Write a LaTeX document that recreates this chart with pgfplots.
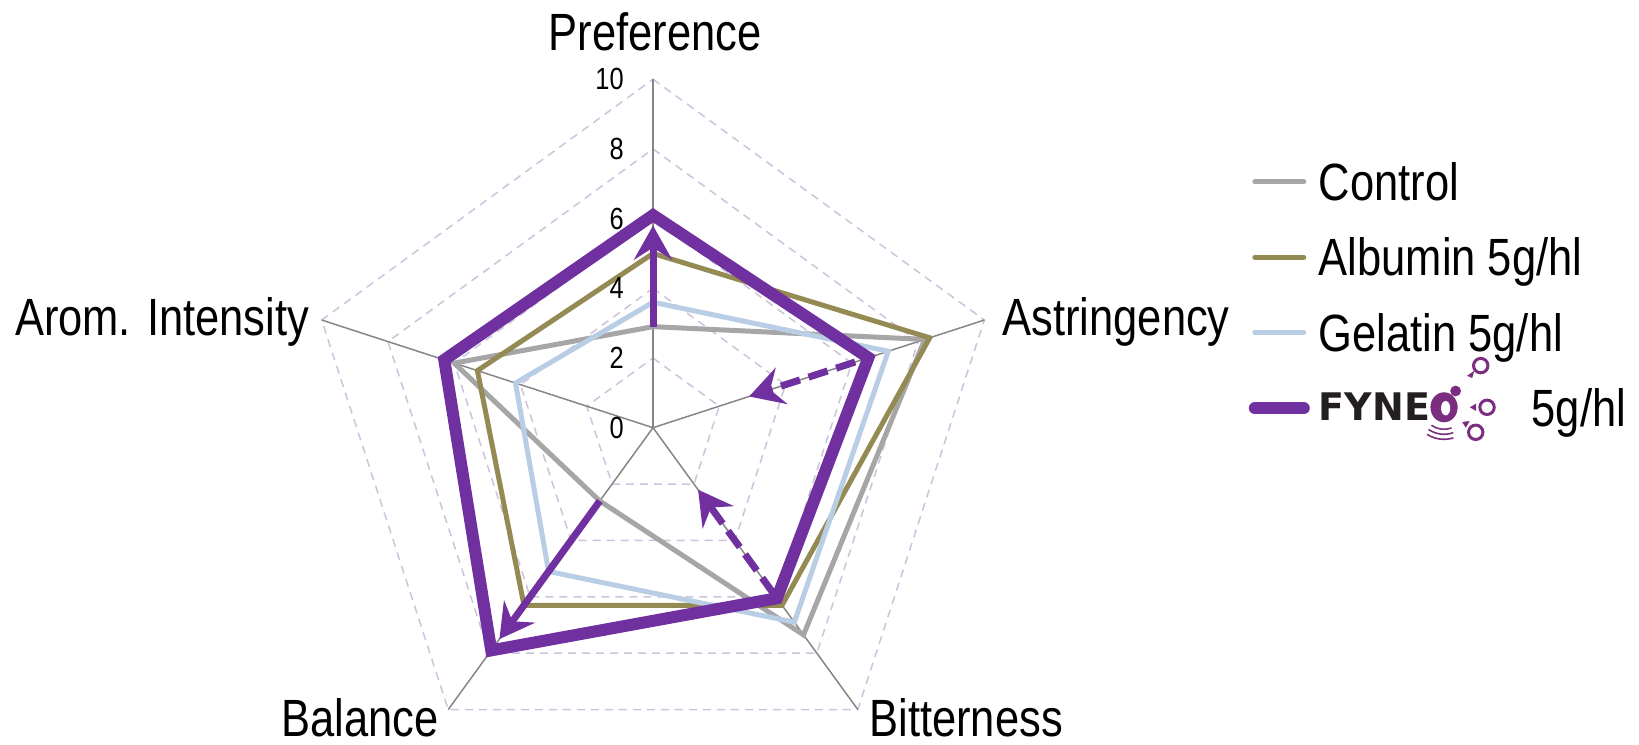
\documentclass[border=0pt]{standalone}
\usepackage{fontspec}
\setmainfont{Liberation Sans}[FakeStretch=0.83]
\newfontfamily\logofont{DejaVu Sans}
\usepackage{pgfplots}
\pgfplotsset{compat=1.18}
\usepackage{pgfplotstable}
\usetikzlibrary{arrows.meta}

\definecolor{ctrl}{HTML}{A6A6A6}
\definecolor{albu}{HTML}{948A54}
\definecolor{gela}{HTML}{B9CDE5}
\definecolor{fyne}{HTML}{7030A0}
\definecolor{logo}{HTML}{7B2D7F}
\definecolor{logotext}{HTML}{231F20}
\definecolor{spoke}{HTML}{868686}
\definecolor{gridc}{HTML}{CCC3DC}

% sensory scores on a 0-10 scale
% spoke angles: Preference 90, Astringency 18, Bitterness -54, Balance -126, Arom. Intensity 162
\pgfplotstableread{
angle control albumin gelatin fyneo
90    2.9     5.0     3.6     6.1
18    8.2     8.35    7.1     6.5
-54   7.35    6.3     6.9     6.05
-126  2.6     6.3     5.1     7.9
162   6.0     5.3     4.15    6.3
}\sensory

\newcommand{\biglabel}{\fontsize{26.2}{30}\selectfont}
\newcommand{\ticklabel}{\fontsize{15.3}{16}\selectfont}
\newcommand{\logotype}{\fontsize{19}{20}\selectfont\logofont\bfseries}

% brand mark used in the legend
\newcommand{\fyneologo}{%
  \tikz[baseline=0pt, x=1pt, y=1pt]{%
    \node[anchor=base east, inner sep=0pt, outer sep=0pt, text height=, text depth=,
          font=\logotype, text=logotext] at (-0.5,3) {FYNE};
    \fill[logo] (6.5,9.65) ellipse [x radius=6.8, y radius=7.5];
    \fill[white] (7.3,9.2) ellipse [x radius=2.3, y radius=3.6];
    \fill[logo] (12.3,17.8) circle [radius=2.7];
    \draw[logo, line width=1.5pt] (24.85,30.5) circle [radius=3.6];
    \draw[logo, line width=1.5pt] (28,9.65) circle [radius=3.6];
    \draw[logo, line width=1.5pt] (22.35,-2.85) circle [radius=3.6];
    \fill[logo] (18.0,25.4) -- (21.6,27.9) -- (20.6,24.3) -- cycle;
    \fill[logo] (19.4,9.65) -- (22.6,11.5) -- (22.6,7.8) -- cycle;
    \fill[logo] (15.6,2.3) -- (19.3,2.8) -- (17.4,-0.6) -- cycle;
    \draw[logo, line width=0.8pt] (6.5,9.65) ++(235:11) arc [start angle=235, end angle=290, radius=11];
    \draw[logo, line width=0.8pt] (6.5,9.65) ++(235:13.5) arc [start angle=235, end angle=290, radius=13.5];
    \draw[logo, line width=0.8pt] (6.5,9.65) ++(238:16) arc [start angle=238, end angle=287, radius=16];
  }%
}

\begin{document}
\begin{tikzpicture}
\begin{axis}[
  x=17.42pt, y=17.42pt,
  xmin=-18.743, xmax=28.30, ymin=-9.107, ymax=12.276,
  hide axis, clip=false,
  legend cell align=left,
  legend image code/.code={\draw[#1, line cap=round] (0pt,0pt) -- (24.5pt,0pt);},
  legend style={draw=none, fill=none, inner sep=0pt, outer sep=0pt,
    at={(axis cs:17.10,7.807)}, anchor=north west,
    row sep=11.75pt, column sep=4.5pt,
    font=\biglabel,
    nodes={inner sep=0pt, text height=22.2pt, text depth=3.8pt}},
  gridpent/.style={forget plot, gridc, line width=0.75pt, dash pattern=on 4pt off 3pt, data cs=polar, mark=none},
  spokeline/.style={forget plot, spoke, line width=0.75pt, data cs=polar, mark=none},
  series/.style={data cs=polar, mark=none, line join=miter},
  shift arrow/.style={forget plot, fyne, line width=3.5pt, data cs=polar, mark=none,
    -{Stealth[length=17pt, width=19pt, inset=6pt]}},
]
\coordinate (bbsw) at (rel axis cs:0,0);
\coordinate (bbne) at (rel axis cs:1,1);

% dashed level pentagons
\addplot[gridpent] coordinates {(90,2) (18,2) (-54,2) (-126,2) (162,2)} -- cycle;
\addplot[gridpent] coordinates {(90,4) (18,4) (-54,4) (-126,4) (162,4)} -- cycle;
\addplot[gridpent] coordinates {(90,6) (18,6) (-54,6) (-126,6) (162,6)} -- cycle;
\addplot[gridpent] coordinates {(90,8) (18,8) (-54,8) (-126,8) (162,8)} -- cycle;
\addplot[gridpent] coordinates {(90,10) (18,10) (-54,10) (-126,10) (162,10)} -- cycle;

% spokes
\addplot[spokeline] coordinates {(90,0) (90,10)};
\addplot[spokeline] coordinates {(18,0) (18,10)};
\addplot[spokeline] coordinates {(-54,0) (-54,10)};
\addplot[spokeline] coordinates {(-126,0) (-126,10)};
\addplot[spokeline] coordinates {(162,0) (162,10)};

% series
\addplot[series, ctrl, line width=2.5pt] table[x=angle, y=control] {\sensory} -- cycle;
\addlegendentry{Control}
\addplot[series, albu, line width=2.5pt] table[x=angle, y=albumin] {\sensory} -- cycle;
\addlegendentry{Albumin 5g/hl}
\addplot[series, gela, line width=2.5pt] table[x=angle, y=gelatin] {\sensory} -- cycle;
\addlegendentry{Gelatin 5g/hl}
\addplot[series, fyne, line width=6pt] table[x=angle, y=fyneo] {\sensory} -- cycle;
\addlegendentry{\fyneologo\hspace{18pt}5g/hl}

% shift arrows
\addplot[shift arrow] coordinates {(90,2.9) (90,5.8)};
\addplot[shift arrow, dash pattern=on 10pt off 4.5pt] coordinates {(18,6.1) (18,2.9)};
\addplot[shift arrow, dash pattern=on 10pt off 4.5pt] coordinates {(-54,5.9) (-54,2.2)};
\addplot[shift arrow] coordinates {(-126,2.6) (-126,7.5)};

% scale labels
\node[anchor=east, inner sep=0pt, font=\ticklabel] at (axis cs:-0.83,0) {0};
\node[anchor=east, inner sep=0pt, font=\ticklabel] at (axis cs:-0.83,2) {2};
\node[anchor=east, inner sep=0pt, font=\ticklabel] at (axis cs:-0.83,4) {4};
\node[anchor=east, inner sep=0pt, font=\ticklabel] at (axis cs:-0.83,6) {6};
\node[anchor=east, inner sep=0pt, font=\ticklabel] at (axis cs:-0.83,8) {8};
\node[anchor=east, inner sep=0pt, font=\ticklabel] at (axis cs:-0.83,10) {10};

% category labels
\node[anchor=base, inner sep=0pt, font=\biglabel] at (axis cs:0.06,10.84) {Preference};
\node[anchor=base west, inner sep=0pt, font=\biglabel] at (axis cs:10.02,2.65) {Astringency};
\node[anchor=base west, inner sep=0pt, font=\biglabel] at (axis cs:6.2,-8.86) {Bitterness};
\node[anchor=base east, inner sep=0pt, font=\biglabel] at (axis cs:-6.15,-8.86) {Balance};
\node[anchor=base east, inner sep=0pt, font=\biglabel] at (axis cs:-9.86,2.65) {Arom. Intensity};
\end{axis}
\pgfresetboundingbox
\useasboundingbox (bbsw) rectangle (bbne);
\end{tikzpicture}
\end{document}
